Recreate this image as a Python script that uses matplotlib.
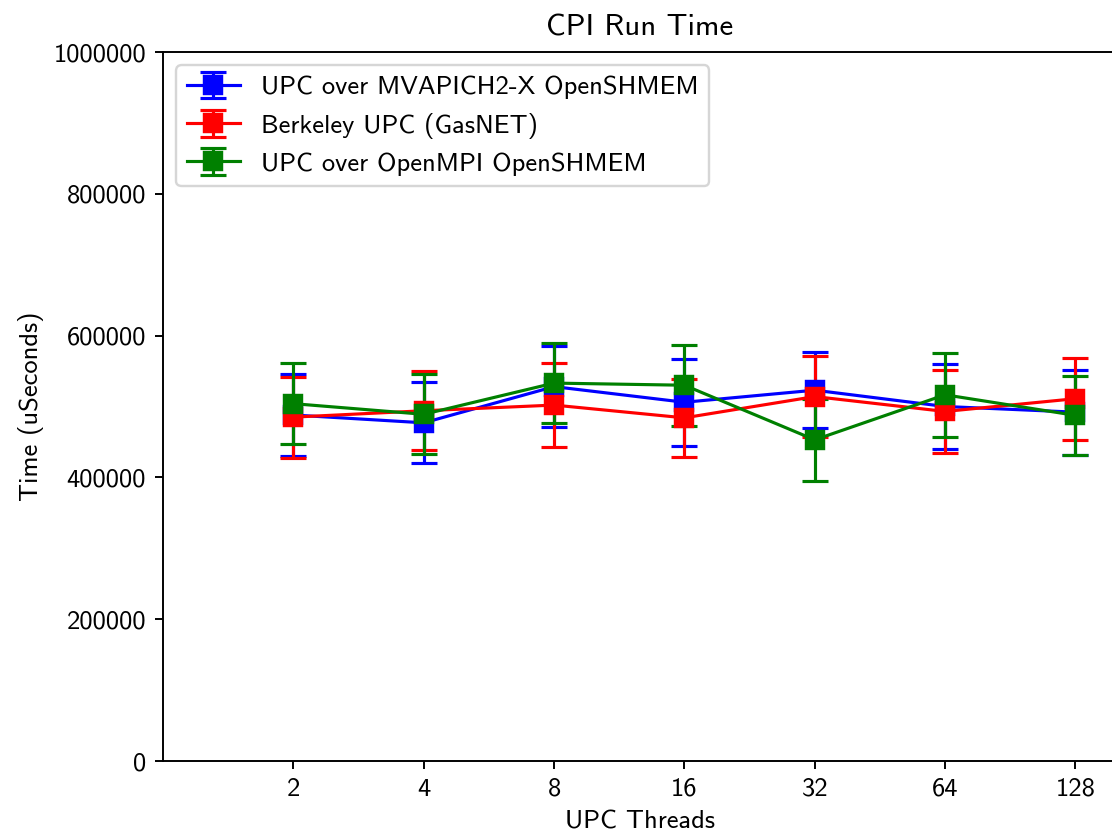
import matplotlib
matplotlib.use("Agg")
import matplotlib.pyplot as plt
import numpy as np

plt.rcParams['font.family'] = ['cmss10', 'DejaVu Sans']
plt.rcParams['axes.unicode_minus'] = False
plt.rcParams['axes.formatter.use_mathtext'] = False

threads = ["2", "4", "8", "16", "32", "64", "128"]
mvapich_mean = [488000, 477000, 528000, 506000, 523000, 500000, 492000]
mvapich_err = [58000, 57000, 57500, 61500, 53500, 59500, 60000]
berkeley_mean = [485000, 494000, 502000, 484000, 514000, 493000, 511000]
berkeley_err = [57000, 55500, 59500, 55000, 57500, 58000, 58000]
openmpi_mean = [504000, 489000, 533000, 530000, 453000, 516500, 487500]
openmpi_err = [57000, 56500, 56000, 57000, 57500, 59500, 56000]

series = [
    ("UPC over MVAPICH2-X OpenSHMEM", mvapich_mean, mvapich_err, "blue"),
    ("Berkeley UPC (GasNET)", berkeley_mean, berkeley_err, "red"),
    ("UPC over OpenMPI OpenSHMEM", openmpi_mean, openmpi_err, "green"),
]

fig = plt.figure(figsize=(6.4, 4.806), dpi=173.75)
ax = fig.add_axes([0.1466, 0.0886, 0.858, 0.8491])

x = np.arange(1, len(threads) + 1)
for label, m, e, c in series:
    ax.errorbar(x, m, yerr=e, color=c, marker='s', markersize=7.5,
                capsize=5.5, linewidth=1.3, elinewidth=1.3, capthick=1.3,
                label=label)

ax.set_xlim(0, 7.32)
ax.set_ylim(0, 1000000)
ax.set_xticks(x)
ax.set_xticklabels(threads)
ax.set_yticks([0, 200000, 400000, 600000, 800000, 1000000])
ax.set_yticklabels(["0", "200000", "400000", "600000", "800000", "1000000"])
ax.tick_params(labelsize=11)
ax.set_xlabel("UPC Threads", fontsize=11)
ax.set_ylabel("Time (uSeconds)", fontsize=11)
ax.set_title("CPI Run Time", fontsize=12.8, pad=7)
ax.legend(loc='upper left', fontsize=11)

fig.savefig("out.png", dpi=173.75)
